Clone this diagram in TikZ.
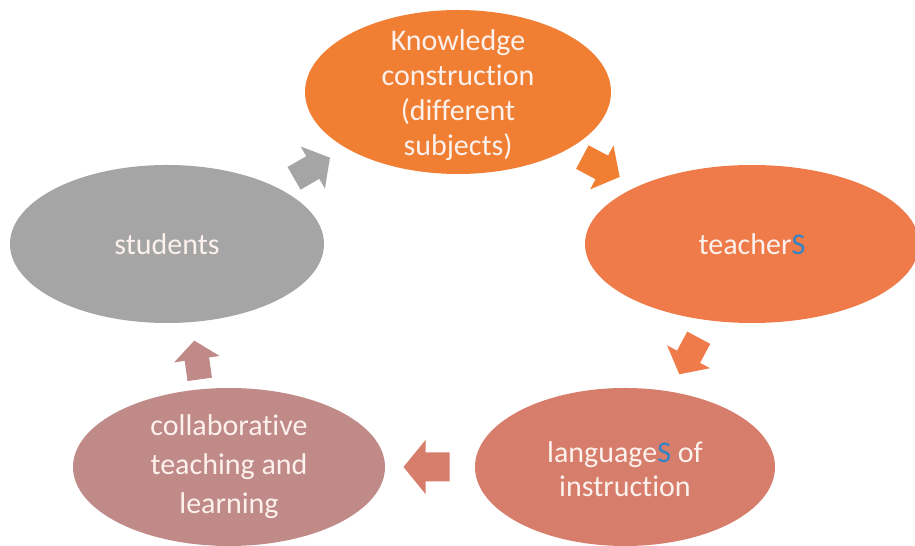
\documentclass[tikz,border=0pt]{standalone}
\usepackage{fontspec}
\setmainfont[Ligatures={NoCommon,NoContextual}, Contextuals=NoAlternate]{Carlito}
\usetikzlibrary{shapes.geometric}

\definecolor{knowcol}{RGB}{240,127,52}
\definecolor{teachcol}{RGB}{239,123,74}
\definecolor{langcol}{RGB}{215,125,108}
\definecolor{collabcol}{RGB}{191,138,136}
\definecolor{studcol}{RGB}{165,165,165}
\definecolor{labelcol}{RGB}{252,241,236}
\definecolor{sblue}{RGB}{47,133,200}

\tikzset{
  bubble/.style={ellipse, draw=none, inner sep=0pt},
  bubbletext/.style={text=labelcol, align=center, inner sep=0pt,
    font=\fontsize{30bp}{36.6bp}\selectfont},
}

% block arrow of the cycle: centre, direction, scale, colour
\newcommand\cyclearrow[4]{%
  \fill[#4, shift={#1}, rotate=#2, scale=#3]
    (-23,-14.5) -- (1,-14.5) -- (1,-27) -- (23,0) -- (1,27) -- (1,14.5)
    -- (-23,14.5) -- cycle;
}

\begin{document}
\begin{tikzpicture}[x=1bp,y=1bp]
  \useasboundingbox (0,0) rectangle (915,546);
  \clip (0,0) rectangle (915,546);

  % the five stages
  \node[bubble, fill=knowcol, minimum width=306bp, minimum height=164bp] (know) at (458,454) {};
  \node[bubble, fill=teachcol, minimum width=334bp, minimum height=158bp] (teach) at (752,302) {};
  \node[bubble, fill=langcol, minimum width=300bp, minimum height=158bp] (lang) at (625,79) {};
  \node[bubble, fill=collabcol, minimum width=312bp, minimum height=158bp] (collab) at (229,79) {};
  \node[bubble, fill=studcol, minimum width=314bp, minimum height=158bp] (stud) at (167,302) {};

  \node[bubbletext, font=\fontsize{30bp}{35bp}\selectfont] (knowtext) at ([yshift=-3bp]know.center)
    {Knowledge\\construction\\(different\\subjects)};
  \node[bubbletext] (teachtext) at (teach.center) {teacher\textcolor{sblue}{S}};
  \node[bubbletext, font=\fontsize{30bp}{34bp}\selectfont] (langtext) at ([yshift=-2bp]lang.center)
    {language\textcolor{sblue}{S} of\\instruction};
  \node[bubbletext, font=\fontsize{30bp}{39bp}\selectfont] (collabtext) at (collab.center)
    {collaborative\\teaching and\\learning};
  \node[bubbletext] (studtext) at (stud.center) {students};

  % arrows between the stages
  \cyclearrow{(312,378)}{30}{0.9}{studcol}
  \cyclearrow{(601,379)}{-28}{0.92}{knowcol}
  \cyclearrow{(689,190)}{-118}{0.9}{teachcol}
  \cyclearrow{(426.5,79)}{180}{1.0}{langcol}
  \cyclearrow{(197,186)}{98}{0.85}{collabcol}
\end{tikzpicture}
\end{document}
